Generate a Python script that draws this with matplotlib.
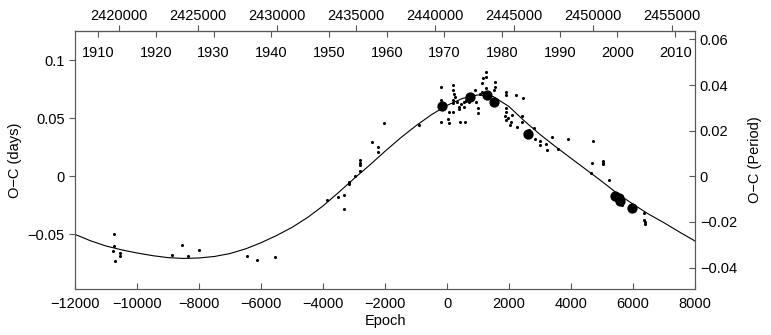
import numpy as np
import matplotlib.pyplot as plt

plt.rcParams['font.family'] = ['Liberation Sans', 'DejaVu Sans']
plt.rcParams['font.size'] = 10.5

# ephemeris used for the secondary axes
P = 1.963          # period, days
JD0 = 2440752.0    # epoch zero

# model curve (epoch, O-C days)
curve_E = [-12000, -11500, -11000, -10500, -10000, -9500, -9000, -8500, -8000,
           -7500, -7000, -6500, -6000, -5500, -5000, -4500, -4000, -3500, -3000,
           -2500, -2000, -1500, -1000, -500, 0, 500, 1000, 1500, 2000, 2500,
           3000, 3500, 4000, 4500, 5000, 5500, 6000, 6500, 7000, 7500, 8000]
curve_oc = [-0.0500, -0.0555, -0.0600, -0.0633, -0.0660, -0.0683, -0.0700, -0.0707, -0.0703,
            -0.0690, -0.0665, -0.0625, -0.0572, -0.0510, -0.0440, -0.0355, -0.0255, -0.0140, -0.0020,
            0.0095, 0.0215, 0.0330, 0.0435, 0.0530, 0.0610, 0.0670, 0.0700, 0.0685, 0.0600, 0.0475,
            0.0360, 0.0255, 0.0155, 0.0055, -0.0045, -0.0150, -0.0240, -0.0325, -0.0400, -0.0480, -0.0557]

# individual timings (small dots)
small_E = [-10755, -10755, -10775, -10723, -10561, -10561, -8871, -8539, -8355, -7990,
           -6452, -6119, -5561, -3871, -3529, -3335, -3335, -3174, -3165, -3152, -2958,
           -2797, -2797, -2797, -2797, -2419, -2239, -2239, -2045, -894,
           -184, -194, -184, 52, 32, 52, 181, 194, 213, 194, 200, 181, 268, 323, 406, 397,
           535, 590, 560, 620, 700, 913, 945, 987, 987, 850, 1129, 1129, 1161, 1268, 1268,
           1250, 1310, 1535, 1535, 1520, 1913, 1913, 1890, 1913, 1913, 1880, 2235, 2452,
           1960, 2060, 2110, 2040, 2258, 2419, 2419, 2632, 2794, 2848, 2987, 3010, 3194,
           3226, 3387, 3581, 3890, 4697, 4687, 5032, 5032, 5032, 4645, 5213, 5645, 6342,
           6342, 6397, 6397, 700, 760, 1050, 380, 450, 600]
small_oc = [-0.0497, -0.0600, -0.0640, -0.0726, -0.0657, -0.0686, -0.0680, -0.0590, -0.0690, -0.0634,
            -0.0689, -0.0718, -0.0697, -0.0204, -0.0176, -0.0161, -0.0284, -0.0060, -0.0070, -0.0046, 0.0003,
            0.0048, 0.0140, 0.0117, 0.0100, 0.0298, 0.0250, 0.0207, 0.0456, 0.0441,
            0.0771, 0.0657, 0.0470, 0.0556, 0.0490, 0.0456, 0.0786, 0.0743, 0.0706, 0.0657, 0.0628, 0.0556, 0.0685, 0.0642, 0.0470, 0.0577,
            0.0599, 0.0470, 0.0640, 0.0660, 0.0680, 0.0743, 0.0642, 0.0585, 0.0542, 0.0700, 0.0728, 0.0800, 0.0843, 0.0900, 0.0857,
            0.0760, 0.0714, 0.0814, 0.0771, 0.0740, 0.0728, 0.0700, 0.0585, 0.0556, 0.0484, 0.0520, 0.0700, 0.0671,
            0.0500, 0.0470, 0.0530, 0.0440, 0.0427, 0.0470, 0.0520, 0.0398, 0.0413, 0.0318, 0.0306, 0.0269, 0.0278,
            0.0226, 0.0340, 0.0232, 0.0318, 0.0306, 0.0112, 0.0134, 0.0115, 0.0106, 0.0031, -0.0032, -0.0247, -0.0318,
            -0.0376, -0.0396, -0.0413, 0.0640, 0.0660, 0.0710, 0.0600, 0.0620, 0.0650]

# averaged / high-weight timings (big dots)
big_E = [-161, 752, 1290, 1505, 2613, 5406, 5535, 5590, 5968]
big_oc = [0.0608, 0.0680, 0.0700, 0.0642, 0.0364, -0.0170, -0.0189, -0.0210, -0.0270]

left_ticks = [-0.05, 0, 0.05, 0.1]
right_ticks = [-0.04, -0.02, 0, 0.02, 0.04, 0.06]
jd_ticks = np.arange(2420000, 2455001, 5000)
year_ticks = np.arange(1910, 2011, 10)

fig = plt.figure(figsize=(7.71, 3.35), dpi=100)
ax = fig.add_axes([75/771, 46/335, 620/771, 258/335])

ax.plot(curve_E, curve_oc, color='k', lw=0.8)
ax.scatter(small_E, small_oc, s=5, color='k', lw=0, zorder=3)
ax.scatter(big_E, big_oc, s=55, color='k', lw=0, zorder=4)

ax.set_xlim(-12000, 8000)
ax.set_ylim(-0.097, 0.125)
ax.set_xticks(np.arange(-12000, 8001, 2000))
ax.set_yticks(left_ticks)
ax.set_yticklabels(['\u22120.05', '0', '0.05', '0.1'])
ax.set_xlabel('Epoch', labelpad=2)
ax.set_ylabel('O\u2212C (days)')
ax.tick_params(axis='x', direction='in', length=4, color='0.35', top=False, pad=6)
ax.tick_params(axis='y', direction='out', length=4, color='0.35', right=False)
for s in ax.spines.values():
    s.set_color('0.35')

# right axis in units of the period
ax2 = ax.twinx()
ax2.set_ylim(-0.097 / P, 0.125 / P)
ax2.set_yticks(right_ticks)
ax2.set_yticklabels(['\u22120.04', '\u22120.02', '0', '0.02', '0.04', '0.06'])
ax2.set_ylabel('O\u2212C (Period)', labelpad=8)
ax2.tick_params(axis='y', direction='in', length=4, color='0.35')
for s in ax2.spines.values():
    s.set_color('0.35')

# top axes: Julian date (outside) and calendar year (inside)
def e2jd(e):
    return JD0 + P * np.asarray(e)

def jd2e(jd):
    return (np.asarray(jd) - JD0) / P

def e2yr(e):
    return 2000 + (e2jd(e) - 2451545.0) / 365.25

def yr2e(y):
    return jd2e(2451545.0 + (np.asarray(y) - 2000) * 365.25)

top = ax.secondary_xaxis('top', functions=(e2jd, jd2e))
top.set_xticks(jd_ticks)
top.set_xticklabels([str(v) for v in jd_ticks])
top.tick_params(direction='out', length=4, color='0.35', pad=2)
top.spines['top'].set_color('0.35')

yrs = ax.secondary_xaxis('top', functions=(e2yr, yr2e))
yrs.set_xticks(year_ticks)
yrs.set_xticklabels([str(v) for v in year_ticks])
yrs.tick_params(direction='in', length=4, color='0.35', pad=-21)
yrs.spines['top'].set_visible(False)

fig.savefig('out.png', dpi=100)
